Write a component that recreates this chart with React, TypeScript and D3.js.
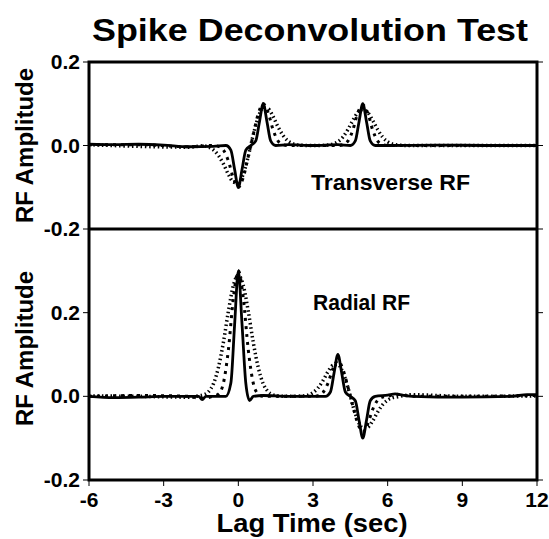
import React from "react";
import * as d3 from "d3";

// Lag time (sec) vs RF amplitude
const TRANS_SOLID: [number, number][] = [
  [-6, 0.003], [-5, 0.002], [-4, 0.003], [-3, 0.001], [-2, -0.003], [-1, -0.002], [-0.5, 0],
  [-0.3, -0.011], [-0.15, -0.057], [0, -0.1], [0.15, -0.057], [0.3, -0.011], [0.5, 0],
  [0.7, 0.011], [0.85, 0.057], [1, 0.1], [1.15, 0.057], [1.3, 0.011], [1.5, 0], [2, 0.002],
  [3, 0], [4, 0.002], [4.5, 0], [4.7, 0.011], [4.85, 0.057], [5, 0.1], [5.15, 0.057],
  [5.3, 0.011], [5.5, 0], [6, 0], [8, 0.001], [10, 0], [12, 0],
];
const TRANS_MEDIUM: [number, number][] = [
  [-6, 0.002], [-4, 0.002], [-2, -0.003], [-1, 0], [-0.8, -0.002], [-0.6, -0.0105], [-0.4, -0.037],
  [-0.2, -0.078], [0, -0.1], [0.2, -0.076], [0.4, -0.026], [0.5, 0], [0.6, 0.026], [0.8, 0.076],
  [1, 0.1], [1.2, 0.078], [1.4, 0.037], [1.6, 0.0105], [1.8, 0.002], [2, 0], [3, 0], [4, 0],
  [4.2, 0.002], [4.4, 0.0105], [4.6, 0.037], [4.8, 0.078], [5, 0.097], [5.2, 0.078], [5.4, 0.037],
  [5.6, 0.0105], [5.8, 0.002], [6, 0], [8, 0], [12, 0],
];
const TRANS_WIDE: [number, number][] = [
  [-6, 0.002], [-4, -0.002], [-2, -0.004], [-1.4, -0.001], [-1.2, -0.004], [-1, -0.0105],
  [-0.8, -0.024], [-0.6, -0.044], [-0.4, -0.069], [-0.2, -0.0875], [0, -0.0895], [0.2, -0.068],
  [0.4, -0.0255], [0.5, 0], [0.6, 0.0255], [0.8, 0.068], [1, 0.0895], [1.2, 0.0875], [1.4, 0.069],
  [1.6, 0.044], [1.8, 0.024], [2, 0.0105], [2.2, 0.004], [2.4, 0.001], [3, 0], [3.4, 0.0003],
  [3.6, 0.001], [3.8, 0.0034], [4, 0.009], [4.2, 0.02], [4.4, 0.038], [4.6, 0.06], [4.8, 0.079],
  [5, 0.086], [5.2, 0.079], [5.4, 0.06], [5.6, 0.038], [5.8, 0.02], [6, 0.009], [6.2, 0.0034],
  [6.4, 0.001], [6.6, 0.0003], [8, 0], [12, 0],
];

const RAD_SOLID: [number, number][] = [
  [-6, 0], [-5, -0.003], [-4, -0.002], [-3, 0], [-2, 0], [-1.6, 0], [-1.45, -0.008], [-1.3, 0],
  [-0.5, 0], [-0.3, 0.0316], [-0.15, 0.171], [0, 0.3], [0.15, 0.171], [0.3, 0.0316], [0.45, -0.01],
  [0.6, 0], [1, 0.002], [2, 0], [3, 0], [3.5, 0], [3.7, 0.0105], [3.85, 0.057], [4, 0.1],
  [4.15, 0.057], [4.3, 0.0105], [4.5, 0], [4.7, -0.0105], [4.85, -0.057], [5, -0.1], [5.15, -0.057],
  [5.3, -0.0105], [5.5, 0], [6, 0.003], [6.3, 0.006], [6.6, 0.003], [7, 0], [9, -0.002], [11, 0],
  [11.6, 0.004], [12, 0.004],
];
const RAD_MEDIUM: [number, number][] = [
  [-6, 0], [-4, 0.002], [-2, 0], [-1.5, -0.005], [-1, 0.0006], [-0.8, 0.0054], [-0.6, 0.0315],
  [-0.4, 0.111], [-0.2, 0.234], [0, 0.3], [0.2, 0.234], [0.4, 0.111], [0.6, 0.0315], [0.8, 0.0054],
  [1, 0], [2, 0], [3, 0], [3.2, 0.0015], [3.4, 0.009], [3.6, 0.031], [3.8, 0.066], [4, 0.085],
  [4.2, 0.065], [4.4, 0.023], [4.5, 0], [4.6, -0.023], [4.8, -0.065], [5, -0.085], [5.2, -0.066],
  [5.4, -0.031], [5.6, -0.009], [5.8, -0.0015], [6, 0], [6.3, 0.005], [7, 0], [9, 0], [12, 0.002],
];
const RAD_WIDE: [number, number][] = [
  [-6, 0.001], [-4, 0], [-2, -0.002], [-1.6, 0.001], [-1.4, 0.0035], [-1.2, 0.011], [-1, 0.03],
  [-0.8, 0.069], [-0.6, 0.129], [-0.4, 0.203], [-0.2, 0.265], [0, 0.29], [0.2, 0.265], [0.4, 0.203],
  [0.6, 0.129], [0.8, 0.069], [1, 0.03], [1.2, 0.011], [1.4, 0.0035], [1.6, 0.001], [2, 0],
  [2.6, 0.001], [2.8, 0.003], [3, 0.009], [3.2, 0.02], [3.4, 0.0375], [3.6, 0.0585], [3.8, 0.074],
  [4, 0.076], [4.2, 0.0575], [4.4, 0.0217], [4.5, 0], [4.6, -0.0217], [4.8, -0.0575], [5, -0.076],
  [5.2, -0.074], [5.4, -0.0585], [5.6, -0.0375], [5.8, -0.02], [6, -0.009], [6.2, -0.0033],
  [6.4, -0.001], [7, 0.004], [9, 0], [12, 0.001],
];

const X_TICKS = [-6, -3, 0, 3, 6, 9, 12];
const TOP_Y_TICKS = [-0.2, 0.0, 0.2];
const BOT_Y_TICKS = [-0.2, 0.0, 0.2];

const FONT = "'Liberation Sans', Arial, Helvetica, sans-serif";

export default function App() {
  const W = 549, H = 539;
  const L = 89, R = 537;
  const topT = 62, mid = 229, botB = 480;

  const x = d3.scaleLinear().domain([-6, 12]).range([L, R]);
  const yTop = d3.scaleLinear().domain([-0.2, 0.2]).range([mid, topT]);
  const yBot = d3.scaleLinear().domain([-0.2, 0.4]).range([botB, mid]);

  const mk = (ys: d3.ScaleLinear<number, number>) =>
    d3.line<[number, number]>().x((d) => x(d[0])).y((d) => ys(d[1])).curve(d3.curveMonotoneX);
  const lt = mk(yTop);
  const lb = mk(yBot);

  const solid = { stroke: "#000", strokeWidth: 2.8, fill: "none", strokeLinejoin: "miter" as const };
  const medium = { stroke: "#000", strokeWidth: 3, fill: "none", strokeDasharray: "3 5" };
  const wide = { stroke: "#000", strokeWidth: 3.5, fill: "none", strokeDasharray: "1.5 2.8" };

  const tickFont = 21;

  return (
    <svg width={W} height={H} style={{ position: "absolute", left: 0, top: 0 }}>
      <rect x={0} y={0} width={W} height={H} fill="#fff" />
      <defs>
        <clipPath id="cTop"><rect x={L} y={topT} width={R - L} height={mid - topT} /></clipPath>
        <clipPath id="cBot"><rect x={L} y={mid} width={R - L} height={botB - mid} /></clipPath>
      </defs>

      <text x={310} y={41} textAnchor="middle" fontFamily={FONT} fontWeight="bold" fontSize={32}
        textLength={436} lengthAdjust="spacingAndGlyphs">
        Spike Deconvolution Test
      </text>

      <g clipPath="url(#cTop)">
        <path d={lt(TRANS_WIDE) || ""} {...wide} />
        <path d={lt(TRANS_MEDIUM) || ""} {...medium} />
        <path d={lt(TRANS_SOLID) || ""} {...solid} />
      </g>
      <g clipPath="url(#cBot)">
        <path d={lb(RAD_WIDE) || ""} {...wide} />
        <path d={lb(RAD_MEDIUM) || ""} {...medium} />
        <path d={lb(RAD_SOLID) || ""} {...solid} />
      </g>

      <text x={311} y={190} fontFamily={FONT} fontWeight="bold" fontSize={22}
        textLength={159} lengthAdjust="spacingAndGlyphs">Transverse RF</text>
      <text x={313} y={310} fontFamily={FONT} fontWeight="bold" fontSize={22}
        textLength={97} lengthAdjust="spacingAndGlyphs">Radial RF</text>

      {/* frames */}
      <rect x={L} y={topT} width={R - L} height={botB - topT} fill="none" stroke="#000" strokeWidth={3} />
      <line x1={L} x2={R} y1={mid} y2={mid} stroke="#000" strokeWidth={3} />

      {/* y ticks */}
      {TOP_Y_TICKS.map((v) => (
        <g key={"t" + v}>
          <line x1={L - 6} x2={L} y1={yTop(v)} y2={yTop(v)} stroke="#000" strokeWidth={1} />
          <line x1={R} x2={R + 6} y1={yTop(v)} y2={yTop(v)} stroke="#000" strokeWidth={1} />
          <text x={L - 9} y={yTop(v) + 7} textAnchor="end" fontFamily={FONT} fontWeight="bold" fontSize={tickFont}>
            {v.toFixed(1)}
          </text>
        </g>
      ))}
      {BOT_Y_TICKS.map((v) => (
        <g key={"b" + v}>
          <line x1={L - 6} x2={L} y1={yBot(v)} y2={yBot(v)} stroke="#000" strokeWidth={1} />
          <line x1={R} x2={R + 6} y1={yBot(v)} y2={yBot(v)} stroke="#000" strokeWidth={1} />
          <text x={L - 9} y={yBot(v) + 7} textAnchor="end" fontFamily={FONT} fontWeight="bold" fontSize={tickFont}>
            {v.toFixed(1)}
          </text>
        </g>
      ))}

      {/* x ticks */}
      {X_TICKS.map((v) => (
        <g key={"x" + v}>
          <line x1={x(v)} x2={x(v)} y1={botB} y2={botB + 6} stroke="#000" strokeWidth={1} />
          <text x={x(v)} y={507} textAnchor="middle" fontFamily={FONT} fontWeight="bold" fontSize={tickFont}>
            {v}
          </text>
        </g>
      ))}

      <text x={312} y={532} textAnchor="middle" fontFamily={FONT} fontWeight="bold" fontSize={25}
        textLength={191} lengthAdjust="spacingAndGlyphs">
        Lag Time (sec)
      </text>
      <text transform={`translate(33,${(topT + mid) / 2}) rotate(-90)`} textAnchor="middle"
        fontFamily={FONT} fontWeight="bold" fontSize={24}>RF Amplitude</text>
      <text transform={`translate(33,${(mid + botB) / 2 - 6}) rotate(-90)`} textAnchor="middle"
        fontFamily={FONT} fontWeight="bold" fontSize={24}>RF Amplitude</text>
    </svg>
  );
}
